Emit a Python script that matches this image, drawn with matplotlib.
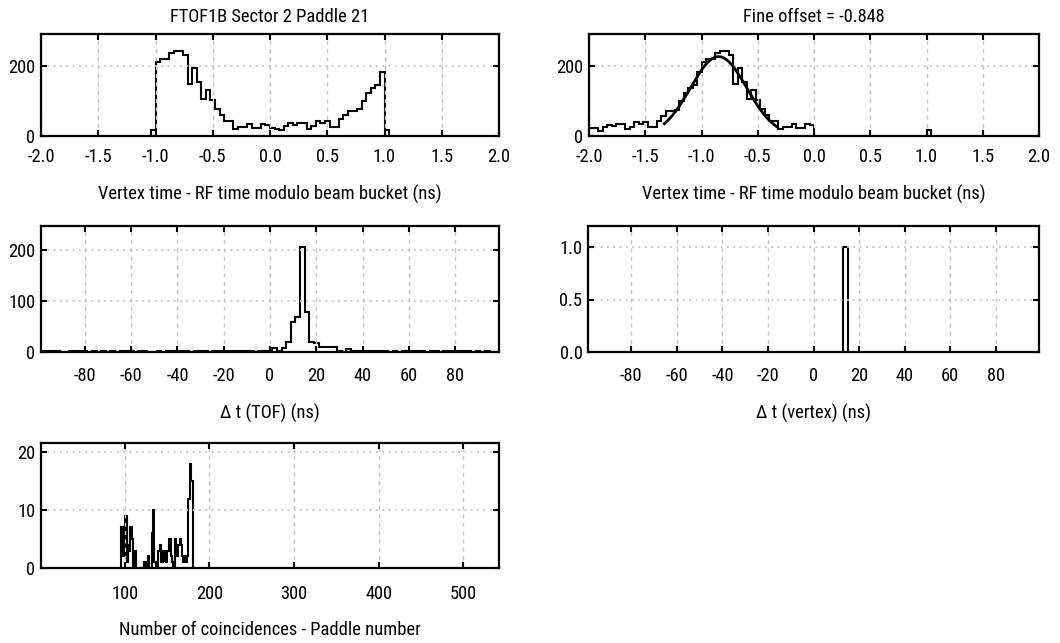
import os
import numpy as np
import matplotlib
matplotlib.use("Agg")
import matplotlib.pyplot as plt
from matplotlib import font_manager as fm

# ===== data
# vertex time - RF, bins of 0.04 ns starting at -1.04 ns
vtx_start = -1.04
vtx_width = 0.04
vtx_counts = [18,
              210, 218, 218, 235, 242, 242, 232, 149, 193, 154,
              105, 132, 102, 78, 61, 42, 42, 20, 27, 27,
              35, 22, 22, 35, 30,
              22, 20, 16, 29, 36, 32, 36, 36, 20, 29,
              42, 37, 42, 27, 27, 47, 60, 71, 71, 76,
              100, 122, 138, 146, 181,
              18]

# after fine offset, bins of 0.04 ns starting at -2.0 ns
fine_start = -2.0
fine_counts = [22, 22, 15, 27, 32, 29, 35, 35, 20, 27,
               40, 35, 40, 27, 27, 42, 57, 71, 71, 74,
               100, 122, 138, 146, 181,
               210, 218, 218, 235, 242, 242, 232, 149, 193, 154,
               105, 132, 102, 78, 61, 42, 42, 20, 27, 27,
               35, 22, 22, 35, 30,
               0, 0, 0, 0, 0, 0, 0, 0, 0, 0,
               0, 0, 0, 0, 0, 0, 0, 0, 0, 0,
               0, 0, 0, 0, 0, 18]
fine_offset = -0.848
fit_amp = 226.0
fit_sigma = 0.25
fit_range = (-1.33, -0.33)

# delta t (TOF), 2 ns bins starting at -99 ns
tof_start = -99
tof_width = 2
tof_counts = [1, 1, 1, 1, 0, 0, 1, 1, 1, 1,
              0, 1, 0, 1, 0, 1, 0, 1, 1, 1,
              0, 1, 1, 0, 0, 1, 0, 1, 1, 1,
              1, 1, 0, 1, 1, 1, 0, 1, 1, 1,
              1, 1, 1, 1, 1, 1, 0, 2, 2,
              1, 7, 2, 7, 20, 58, 69, 206, 78, 20, 17,
              9, 9, 9, 9, 2, 0, 6,
              1, 1, 1, 1, 1, 1, 1, 1, 0, 1,
              0, 1, 1, 1, 1, 1, 0, 1, 1, 0,
              1, 1, 1, 1, 1, 1, 0, 1, 0, 1,
              0, 0]

# delta t (vertex)
vtxdt_start = 13
vtxdt_width = 2
vtxdt_counts = [1]

# coincidences per paddle, starting at paddle 96
pad_start = 96
pad_counts = [7, 7, 2, 2, 9, 9, 3, 1, 4, 3,
              7, 7, 5, 5, 0, 3, 3, 0, 0, 0,
              0, 0, 0, 0, 0, 0, 0, 1, 1, 0,
              0, 2, 2, 0, 0, 0, 6, 10, 10, 1,
              1, 0, 0, 3, 3, 4, 4, 1, 1, 3,
              3, 1, 2, 1, 3, 3, 5, 5, 5, 2,
              1, 0, 0, 5, 5, 2, 2, 4, 4, 5,
              4, 2, 2, 1, 2, 2, 1, 1, 2, 12,
              12, 18, 15, 15, 0]

title_left = "FTOF1B Sector 2 Paddle 21"
title_right = "Fine offset = %.3f" % fine_offset
xlabel_vtx = "Vertex time - RF time modulo beam bucket (ns)"
xlabel_tof = "\u0394 t (TOF) (ns)"
xlabel_vdt = "\u0394 t (vertex) (ns)"
xlabel_pad = "Number of coincidences - Paddle number"

# ===== style
W, H = 1060, 643
LW = 1.5
GRID = '#c4c4c4'


def pick_font():
    # the reference text is tall and narrow: look for a condensed face
    prefs = ['LiberationSansNarrow-Regular', 'NotoSans-ExtraCondensed.',
             'RobotoCondensed-Regular', 'NotoSans-Condensed.',
             'DejaVuSansCondensed.', 'NotoSans-SemiCondensed.']
    files = [f.fname for f in fm.fontManager.ttflist]
    for p in prefs:
        for f in files:
            if os.path.basename(f).startswith(p):
                return f
    for f in files:
        b = os.path.basename(f)
        if ('Condensed' in b or 'Narrow' in b) and 'Bold' not in b \
                and 'Italic' not in b and 'Light' not in b and 'Thin' not in b:
            return f
    return None


font_file = pick_font()


def fprop(size):
    if font_file:
        return fm.FontProperties(fname=font_file, size=size)
    return fm.FontProperties(family='DejaVu Sans', size=size)


def box(x0, x1, y0, y1):
    return [x0 / W, 1 - y1 / H, (x1 - x0) / W, (y1 - y0) / H]


def edges(start, width, n):
    return start + width * np.arange(n + 1)


fig = plt.figure(figsize=(W / 100, H / 100), dpi=100)

# scale font so the long x label is as wide as in the reference (~335 px)
probe = fig.text(0, 0, xlabel_vtx, fontproperties=fprop(10))
w = probe.get_window_extent(fig.canvas.get_renderer()).width
probe.remove()
FS = min(10 * 340 / w, 15.5)
FP = fprop(FS)


def style(ax, xlim, ylim, xticks, yticks, xfmt, yfmt, xlabel, xpad=10):
    ax.set_xlim(*xlim)
    ax.set_ylim(*ylim)
    ax.set_xticks(xticks)
    ax.set_yticks(yticks)
    ax.set_xticklabels([xfmt % v for v in xticks], fontproperties=FP)
    ax.set_yticklabels([yfmt % v for v in yticks], fontproperties=FP)
    ax.tick_params(direction='in', length=4, width=1.5, top=True, right=True,
                   colors='k')
    ax.tick_params(axis='x', pad=xpad)
    ax.tick_params(axis='y', pad=4)
    ax.grid(axis='x', color=GRID, lw=1, linestyle=(0, (3, 3)))
    ax.grid(axis='y', color=GRID, lw=1.3, linestyle=(0, (1, 2.5)))
    for s in ax.spines.values():
        s.set_linewidth(1.6)
    ax.set_xlabel(xlabel, labelpad=13.5, fontproperties=FP)


vtx_ticks = [-2, -1.5, -1, -0.5, 0, 0.5, 1, 1.5, 2]
dt_ticks = [-80, -60, -40, -20, 0, 20, 40, 60, 80]

# top left
ax = fig.add_axes(box(41, 499, 34, 136))
ax.stairs(vtx_counts, edges(vtx_start, vtx_width, len(vtx_counts)),
          color='k', lw=LW)
style(ax, (-2, 2), (0, 1.2 * max(vtx_counts)), vtx_ticks, [0, 200],
      "%.1f", "%d", xlabel_vtx, xpad=9)
ax.set_title(title_left, pad=9, fontproperties=FP)

# top right
ax = fig.add_axes(box(589, 1039, 34, 136))
ax.stairs(fine_counts, edges(fine_start, vtx_width, len(fine_counts)),
          color='k', lw=LW)
xf = np.linspace(fit_range[0], fit_range[1], 200)
ax.plot(xf, fit_amp * np.exp(-0.5 * ((xf - fine_offset) / fit_sigma) ** 2),
        color='k', lw=2.0)
style(ax, (-2, 2), (0, 1.2 * max(fine_counts)), vtx_ticks, [0, 200],
      "%.1f", "%d", xlabel_vtx, xpad=9)
ax.set_title(title_right, pad=9, fontproperties=FP)

# middle left
ax = fig.add_axes(box(41, 499, 226, 352))
ax.stairs(tof_counts, edges(tof_start, tof_width, len(tof_counts)),
          color='k', lw=LW)
style(ax, (-99, 99), (0, 1.2 * max(tof_counts)), dt_ticks, [0, 100, 200],
      "%d", "%d", xlabel_tof, xpad=11)

# middle right
ax = fig.add_axes(box(588, 1039, 226, 352))
ax.stairs(vtxdt_counts, edges(vtxdt_start, vtxdt_width, len(vtxdt_counts)),
          color='k', lw=LW)
style(ax, (-99, 99), (0, 1.2 * max(vtxdt_counts)), dt_ticks, [0, 0.5, 1.0],
      "%d", "%.1f", xlabel_vdt, xpad=11)

# bottom left
ax = fig.add_axes(box(41, 499, 443, 568))
ax.stairs(pad_counts, edges(pad_start, 1, len(pad_counts)),
          color='k', lw=LW)
style(ax, (1, 542), (0, 1.2 * max(pad_counts)), [100, 200, 300, 400, 500],
      [0, 10, 20], "%d", "%d", xlabel_pad, xpad=12)

fig.savefig("out.png", dpi=100)
